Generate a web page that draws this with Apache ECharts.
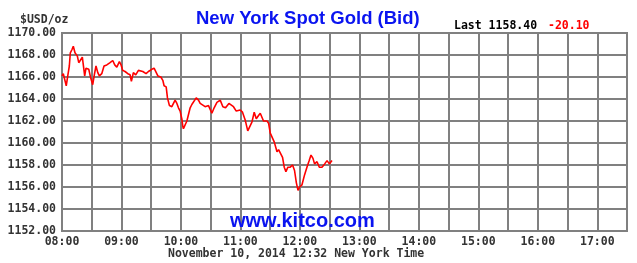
<!DOCTYPE html>
<html>
<head>
<meta charset="utf-8">
<script src="https://cdn.jsdelivr.net/npm/echarts@6/dist/echarts.min.js"></script>
<style>html,body{margin:0;padding:0;background:#fff}#c{width:637px;height:263px}</style>
</head>
<body>
<div id="c"></div>
<script>
// minutes after 08:00 (New York time)
const minutes = [0,1.3,4.3,5.8,7.4,8.4,10.1,11.4,13.1,15.5,16.9,18.9,20.5,21.5,22.9,24.2,27,29,31,32.6,34.3,36.1,37.7,40.1,42.4,45.2,48.5,51.2,53.2,55.3,57.9,59.6,61.3,63.6,66.4,68.7,70,72,74.4,77.1,78.8,81.5,84.8,87.2,90.6,92.9,94.6,96.7,99.7,101.7,103,105.1,106.4,108.4,110.8,112.4,114.1,115.9,117.5,119.2,120.9,121.9,122.5,126,129.3,131,132.6,135.4,137.7,139.4,141.1,144.4,147.8,151.2,153.5,156.3,159.6,162.3,165,168.4,173,175.8,179.8,182.1,184.8,187.4,191.6,193.9,196,198.3,200,203.3,206.8,208.4,210.1,211.8,214.1,215.9,216.9,218.5,220.2,222.5,224.2,225.9,227.9,230.3,232.6,234.6,236.4,238.1,239.7,242.1,244.7,247.1,249.4,251.2,253.2,254.8,257.3,259.6,262.3,265,267.4,269.7,272.4];
const prices = [1166.1,1166.3,1165.2,1166.1,1167.0,1168.2,1168.5,1168.8,1168.2,1167.9,1167.3,1167.4,1167.8,1167.1,1166.1,1166.8,1166.7,1165.9,1165.3,1166.2,1167.0,1166.4,1166.1,1166.3,1167.0,1167.1,1167.3,1167.5,1167.1,1166.9,1167.4,1167.1,1166.6,1166.5,1166.3,1166.2,1165.6,1166.4,1166.2,1166.6,1166.7,1166.5,1166.3,1166.5,1166.7,1166.8,1166.7,1166.1,1166.0,1165.7,1165.2,1165.1,1164.1,1163.4,1163.3,1163.4,1163.9,1163.6,1163.2,1162.9,1162.2,1161.5,1161.3,1162.0,1163.2,1163.5,1163.6,1164.1,1163.9,1163.6,1163.5,1163.3,1163.4,1162.7,1163.2,1163.7,1163.9,1163.3,1163.2,1163.6,1163.3,1162.9,1163.0,1162.8,1162.1,1161.1,1161.9,1162.8,1162.2,1162.5,1162.7,1162.0,1162.0,1161.8,1160.9,1160.8,1160.1,1160.0,1159.2,1159.4,1159.4,1158.7,1157.8,1157.4,1157.8,1157.8,1158.0,1157.5,1156.4,1155.7,1156.0,1156.2,1157.1,1157.8,1158.4,1158.9,1158.6,1158.1,1158.3,1157.8,1157.8,1158.1,1158.4,1158.1,1158.4];
const yTicks = [1152,1154,1156,1158,1160,1162,1164,1166,1168,1170];
const hourLabels = ['08:00','09:00','10:00','11:00','12:00','13:00','14:00','15:00','16:00','17:00'];
const titleText = 'New York Spot Gold (Bid)';
const unitText = '$USD/oz';
const lastText = 'Last 1158.40';
const changeText = '-20.10';
const dateText = 'November 10, 2014 12:32 New York Time';
const siteText = 'www.kitco.com';

const mono = '"DejaVu Sans Mono", "Liberation Mono", monospace';
const gridColor = '#808080';
const chart = echarts.init(document.getElementById('c'), null, {renderer: 'canvas'});
chart.setOption({
  animation: false,
  backgroundColor: '#fff',
  grid: {left: 62, right: 10, top: 33, bottom: 32, show: true, borderColor: gridColor, borderWidth: 2},
  xAxis: {
    type: 'value', min: 0, max: 570, interval: 30,
    axisLine: {show: true, lineStyle: {color: gridColor, width: 2}},
    axisTick: {show: false},
    splitLine: {show: true, lineStyle: {color: gridColor, width: 2}},
    axisLabel: {
      color: '#333', fontFamily: mono, fontWeight: 'bold', fontSize: 11.5, margin: 5,
      showMaxLabel: false,
      formatter: v => (v % 60 === 0 ? hourLabels[v / 60] || '' : '')
    }
  },
  yAxis: {
    type: 'value', min: yTicks[0], max: yTicks[yTicks.length - 1], interval: 2,
    axisLine: {show: true, lineStyle: {color: gridColor, width: 2}},
    axisTick: {show: false},
    splitLine: {show: true, lineStyle: {color: gridColor, width: 2}},
    axisLabel: {color: '#333', fontFamily: mono, fontWeight: 'bold', fontSize: 11.5, margin: 6,
      formatter: v => v.toFixed(2)}
  },
  series: [{
    type: 'line', showSymbol: false, symbol: 'none',
    data: minutes.map((m, i) => [m, prices[i]]),
    lineStyle: {color: '#ff0000', width: 1.6},
    z: 5
  }],
  graphic: [
    {type: 'text', left: 20, top: 14, style: {text: unitText, font: 'bold 11.5px ' + mono, fill: '#333'}},
    {type: 'text', left: 196, top: 9, style: {text: titleText, font: 'bold 18.5px "Liberation Sans", Arial, sans-serif', fill: '#0a14f0'}},
    {type: 'text', left: 454, top: 20, style: {text: lastText, font: 'bold 11.5px ' + mono, fill: '#000'}},
    {type: 'text', left: 548, top: 20, style: {text: changeText, font: 'bold 11.5px ' + mono, fill: '#ff0000'}},
    {type: 'text', left: 230, top: 211, z: 10, style: {text: siteText, font: 'bold 20px "Liberation Sans", Arial, sans-serif', fill: '#0a14f0'}},
    {type: 'text', left: 168, top: 248, style: {text: dateText, font: 'bold 11.5px ' + mono, fill: '#333'}}
  ]
});
</script>
</body>
</html>
